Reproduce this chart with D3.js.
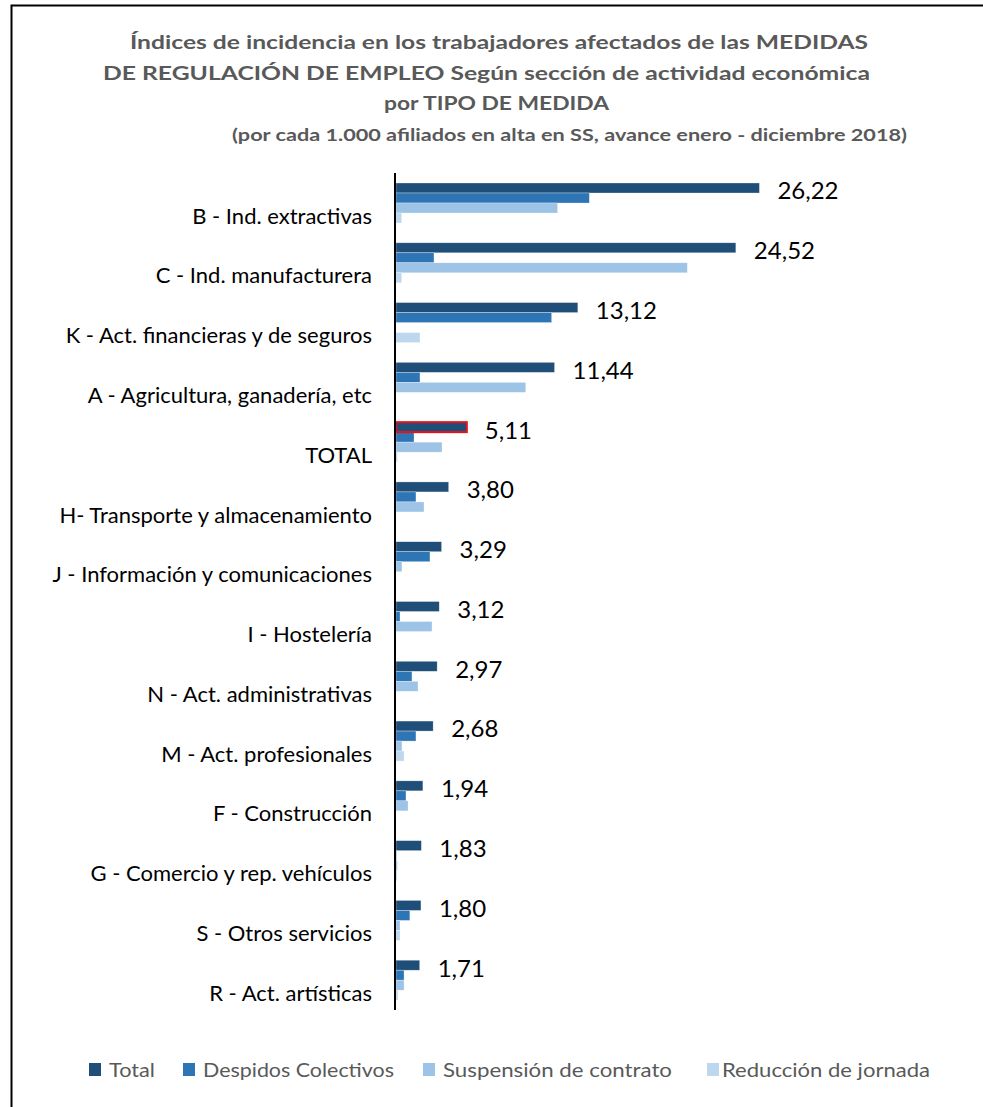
<!DOCTYPE html>
<html><head><meta charset="utf-8">
<script src="https://cdn.jsdelivr.net/npm/d3@7"></script>
<style>body{margin:0;background:#fff}svg{display:block}</style>
</head><body>
<svg id="c" width="983" height="1107"></svg>
<script>
const categories = ["B - Ind. extractivas","C - Ind. manufacturera","K - Act. financieras y de seguros","A - Agricultura, ganadería, etc","TOTAL","H- Transporte y almacenamiento","J - Información y comunicaciones","I - Hostelería","N - Act. administrativas","M - Act. profesionales","F - Construcción","G - Comercio y rep. vehículos","S - Otros servicios","R - Act. artísticas"];
const totalValues = [26.22,24.52,13.12,11.44,5.11,3.80,3.29,3.12,2.97,2.68,1.94,1.83,1.80,1.71];
const despidosValues = [13.95,2.74,11.23,1.73,1.30,1.44,2.45,0.29,1.15,1.44,0.72,0.03,1.00,0.58];
const suspensionValues = [11.66,21.02,0,9.36,3.32,2.02,0.43,2.60,1.59,0.43,0.87,0.10,0.29,0.58];
const reduccionValues = [0.41,0.41,1.73,0,0.10,0,0,0,0,0.58,0,0.08,0.29,0.14];
const seriesNames = ["Total","Despidos Colectivos","Suspensión de contrato","Reducción de jornada"];
const seriesColors = ["#1F4E79","#2E75B6","#9DC3E6","#BDD7EE"];
const titleLines = ["Índices de incidencia en los trabajadores afectados de las MEDIDAS","DE REGULACIÓN  DE EMPLEO  Según sección  de actividad  económica","por TIPO DE MEDIDA","(por cada 1.000 afiliados en alta en SS, avance enero  - diciembre 2018)"];

const seriesValues = [totalValues, despidosValues, suspensionValues, reduccionValues];
const svg = d3.select("#c");
const FONT = "Lato, 'Open Sans', sans-serif";

// frame
svg.append("rect").attr("x",11.5).attr("y",5.5).attr("width",1100).attr("height",1200)
  .attr("fill","none").attr("stroke","#000").attr("stroke-width",2);

// title
const titleSpec = [
  {x0:130,x1:868,y:49,size:19.5},
  {x0:103,x1:870,y:80,size:19.5},
  {x0:384,x1:609,y:110,size:19.5},
  {x0:232,x1:907,y:141,size:17}
];
titleLines.forEach((t,i)=>{
  const s = titleSpec[i];
  svg.append("text").attr("x",s.x0).attr("y",s.y).text(t)
    .attr("font-family",FONT).attr("font-weight","bold").attr("font-size",s.size)
    .attr("fill","#595959").attr("textLength",s.x1-s.x0).attr("lengthAdjust","spacingAndGlyphs");
});

const x = d3.scaleLinear().domain([0,30]).range([396, 396+30*13.86]);
const y = d3.scaleBand().domain(categories).range([173,1010]).padding(0);
const ySub = d3.scaleBand().domain(seriesNames).range([10,50]).padding(0);

const rows = categories.map((c,i)=>({cat:c, vals: seriesNames.map((s,j)=>({s, j, v: seriesValues[j][i]}))}));

const g = svg.append("g");
const grp = g.selectAll("g.cat").data(rows).join("g").attr("class","cat")
  .attr("transform",d=>`translate(0,${y(d.cat)})`);
grp.selectAll("rect").data(d=>d.vals.filter(v=>v.v>0)).join("rect")
  .attr("x",x(0)).attr("y",d=>ySub(d.s)).attr("width",d=>x(d.v)-x(0)).attr("height",ySub.bandwidth())
  .attr("fill",d=>seriesColors[d.j]).attr("stroke","#fff").attr("stroke-opacity",0.5).attr("stroke-width",0.6);

// highlight TOTAL
const ti = categories.indexOf("TOTAL");
svg.append("rect").attr("x",x(0)).attr("y",y("TOTAL")+ySub("Total")).attr("width",x(totalValues[ti])-x(0)).attr("height",ySub.bandwidth())
  .attr("fill","none").attr("stroke","#E8111A").attr("stroke-width",2);

// value labels
grp.append("text").attr("x",(d,i)=>x(totalValues[i])+18).attr("y",ySub("Total")+ySub.bandwidth()/2+3)
  .attr("dy","0.35em").text((d,i)=>d3.format(".2f")(totalValues[i]).replace(".",","))
  .attr("font-family",FONT).attr("font-size",24).attr("fill","#000");

// category labels
grp.append("text").attr("x",372).attr("y",y.bandwidth()/2+13).attr("dy","0.35em").attr("text-anchor","end")
  .text(d=>d.cat).attr("font-family",FONT).attr("font-size",22).attr("fill","#000");

// axis line
svg.append("line").attr("x1",395).attr("x2",395).attr("y1",173).attr("y2",1010).attr("stroke","#000").attr("stroke-width",2);

// legend
const legendSpec = [{sq:89,tx:109,tw:46},{sq:183,tx:203,tw:191},{sq:423,tx:443,tw:229},{sq:707,tx:722,tw:208}];
const lg = svg.append("g").selectAll("g").data(seriesNames).join("g");
lg.append("rect").attr("x",(d,i)=>legendSpec[i].sq).attr("y",1063).attr("width",12).attr("height",13)
  .attr("fill",(d,i)=>seriesColors[i]);
lg.append("text").attr("x",(d,i)=>legendSpec[i].tx).attr("y",1070).attr("dy","0.35em").text(d=>d)
  .attr("font-family",FONT).attr("font-size",19).attr("fill","#595959")
  .attr("textLength",(d,i)=>legendSpec[i].tw).attr("lengthAdjust","spacingAndGlyphs");
</script>
</body></html>
